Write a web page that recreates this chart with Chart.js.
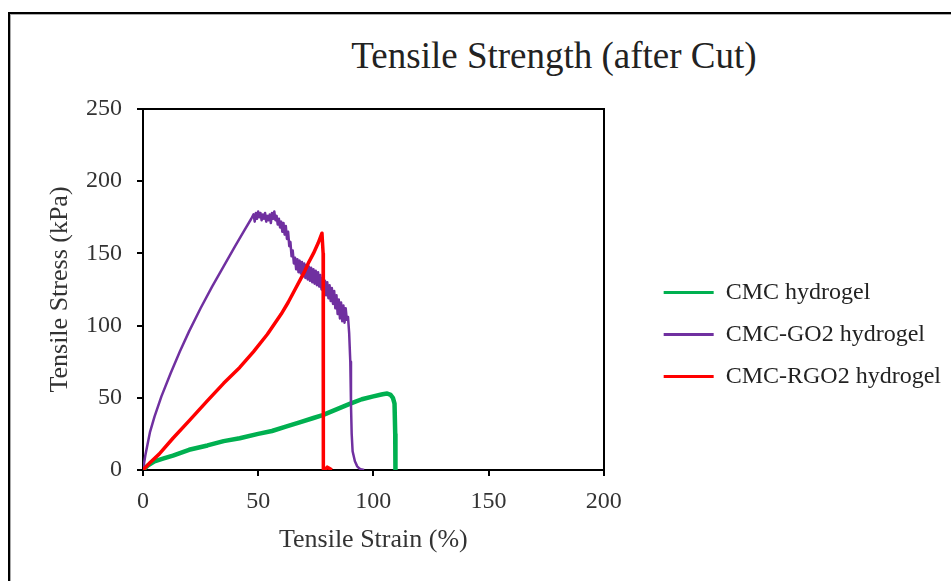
<!DOCTYPE html>
<html>
<head>
<meta charset="utf-8">
<script src="https://cdn.jsdelivr.net/npm/chart.js@4"></script>
<style>
  html, body { margin: 0; padding: 0; background: #fff; }
  body { width: 951px; height: 581px; position: relative; overflow: hidden; }
  #frame { position: absolute; left: 8px; top: 12px; width: 1000px; height: 700px; border-left: 2px solid #000; border-top: 2px solid #000; box-shadow: inset 1px 1px 0 #aaa; }
  #title { position: absolute; left: 0; top: 37px; width: 1108px; text-align: center; font: 37px "Liberation Serif", serif; line-height: 1; color: #222; }
  #wrap { position: absolute; left: 0; top: 0; width: 951px; height: 581px; }
</style>
</head>
<body>
<div id="frame"></div>
<div id="title">Tensile Strength (after Cut)</div>
<div id="wrap"><canvas id="myChart"></canvas></div>
<script>
const seriesNames = ["CMC hydrogel", "CMC-GO2 hydrogel", "CMC-RGO2 hydrogel"];
const seriesColors = ["#00B050", "#7030A0", "#FF0000"];
const xTicks = [0, 50, 100, 150, 200];
const yTicks = [0, 50, 100, 150, 200, 250];

const cmcStrain = [0, 2, 5, 9, 13, 20, 28, 35, 42, 50, 56, 62, 68, 74, 78, 84, 90, 95, 100, 104, 106, 107.5, 108.5, 109.2, 109.5, 109.6];
const cmcStress = [0, 3, 6, 8, 10, 14, 17, 20, 22, 25, 27, 30, 33, 36, 38, 42, 46, 49, 51, 52.5, 53, 52, 50, 46, 25, 0];

const go2Strain = [0, 1, 2, 3, 5, 8, 12, 16, 20, 25, 30, 35, 40, 44, 47,
  48, 48.5, 49, 49.5, 50, 50.5, 51, 51.5, 52, 52.5, 53, 53.5, 54, 54.5, 55, 55.5, 56, 56.5, 57, 57.5, 58, 58.5, 59, 59.5,
  60, 60.5, 61, 61.5, 62, 62.5, 63, 63.5, 64, 64.5, 65, 65.5, 66, 66.5, 67, 67.5, 68, 68.5, 69, 69.5,
  70, 70.5, 71, 71.5, 72, 72.5, 73, 73.5, 74, 74.5, 75, 75.5, 76, 76.5, 77, 77.5, 78, 78.5, 79, 79.5,
  80, 80.5, 81, 81.5, 82, 82.5, 83, 83.5, 84, 84.5, 85, 85.5, 86, 86.5, 87, 87.5, 88, 88.5, 89, 89.5,
  90, 90.3, 90.6, 91, 92, 93, 94, 95, 96];
const go2Stress = [0, 10, 18, 26, 37, 51, 67, 82, 96, 112, 127, 141, 155, 166, 174,
  177, 172, 178, 174, 179, 175, 178, 173, 177, 174, 178, 172, 176, 173, 177, 171, 178, 174, 179, 173, 176, 170, 174, 168,
  172, 165, 171, 163, 169, 160, 165, 155, 158, 148, 152, 143, 147, 139, 146, 137, 145, 136, 144, 134,
  143, 133, 142, 132, 141, 131, 140, 130, 139, 129, 138, 128, 137, 127, 135, 125, 133, 123, 131, 121,
  130, 119, 128, 117, 126, 115, 124, 112, 121, 108, 118, 105, 116, 103, 114, 102, 112, 104, 106, 95,
  75, 45, 25, 13, 6, 2.5, 1, 0.3, 0];

const rgo2Strain = [0, 3, 7, 13, 20, 28, 35, 42, 48, 54, 60, 63, 66, 68, 70, 72, 74, 76, 77.7, 78.2, 78.3, 79, 80, 81, 82];
const rgo2Stress = [0, 5, 11, 22, 34, 48, 60, 71, 82, 94, 108, 116, 125, 131, 137, 144, 150, 157, 164, 150, 0, 0, 2, 1, 0];

const serif = "'Liberation Serif', 'Times New Roman', serif";
const ctx = document.getElementById("myChart");

function toPoints(xs, ys) {
  const pts = [];
  for (let i = 0; i < xs.length; i++) {
    pts.push({ x: xs[i], y: ys[i] });
  }
  return pts;
}

const allStrain = [cmcStrain, go2Strain, rgo2Strain];
const allStress = [cmcStress, go2Stress, rgo2Stress];
const widths = [4.5, 2.5, 3.5];

const datasets = seriesNames.map((name, i) => ({
  label: name,
  data: toPoints(allStrain[i], allStress[i]),
  borderColor: seriesColors[i],
  backgroundColor: seriesColors[i],
  borderWidth: widths[i],
  borderJoinStyle: "round",
  pointRadius: 0,
  tension: 0,
  order: 3 - i,
}));

new Chart(ctx, {
  type: "line",
  data: { datasets: datasets },
  options: {
    responsive: true,
    maintainAspectRatio: false,
    animation: false,
    layout: { padding: { left: 39, top: 109, right: 0, bottom: 21 } },
    plugins: {
      legend: {
        position: "right",
        maxWidth: 320,
        labels: {
          boxWidth: 50,
          boxHeight: 3,
          padding: 18,
          color: "#222",
          font: { family: serif, size: 24 },
          sort: (a, b) => a.datasetIndex - b.datasetIndex,
          generateLabels: (chart) =>
            Chart.defaults.plugins.legend.labels.generateLabels(chart).map((item) => {
              item.lineWidth = 0;
              return item;
            }),
        },
      },
      tooltip: { enabled: false },
    },
    scales: {
      x: {
        type: "linear",
        position: "bottom",
        min: 0,
        max: 200,
        afterBuildTicks: (scale) => { scale.ticks = xTicks.map((v) => ({ value: v })); },
        afterFit: (scale) => { scale.height = 90; },
        ticks: { padding: 11, color: "#333", font: { family: serif, size: 24 } },
        grid: { drawOnChartArea: false, tickLength: 6, color: "#000", lineWidth: 2 },
        border: { color: "#000", width: 2 },
        title: {
          display: true,
          text: "Tensile Strain (%)",
          color: "#333",
          font: { family: serif, size: 26 },
          padding: { top: 8, bottom: 4 },
        },
      },
      y: {
        type: "linear",
        position: "left",
        min: 0,
        max: 250,
        afterBuildTicks: (scale) => { scale.ticks = yTicks.map((v) => ({ value: v })); },
        afterFit: (scale) => { scale.width = 104; },
        ticks: { padding: 15, color: "#333", font: { family: serif, size: 24 } },
        grid: { drawOnChartArea: false, tickLength: 6, color: "#000", lineWidth: 2 },
        border: { color: "#000", width: 2 },
        title: {
          display: true,
          text: "Tensile Stress (kPa)",
          color: "#333",
          font: { family: serif, size: 26 },
          padding: { top: 6, bottom: 4 },
        },
      },
      x2: {
        type: "linear",
        position: "top",
        min: 0,
        max: 1,
        ticks: { display: false },
        grid: { display: false, drawTicks: false },
        border: { display: true, color: "#000", width: 2 },
      },
      y2: {
        type: "linear",
        position: "right",
        min: 0,
        max: 1,
        ticks: { display: false },
        grid: { display: false, drawTicks: false },
        border: { display: true, color: "#000", width: 2 },
        afterFit: (scale) => { scale.width = 42; },
      },
    },
  },
});
</script>
</body>
</html>
